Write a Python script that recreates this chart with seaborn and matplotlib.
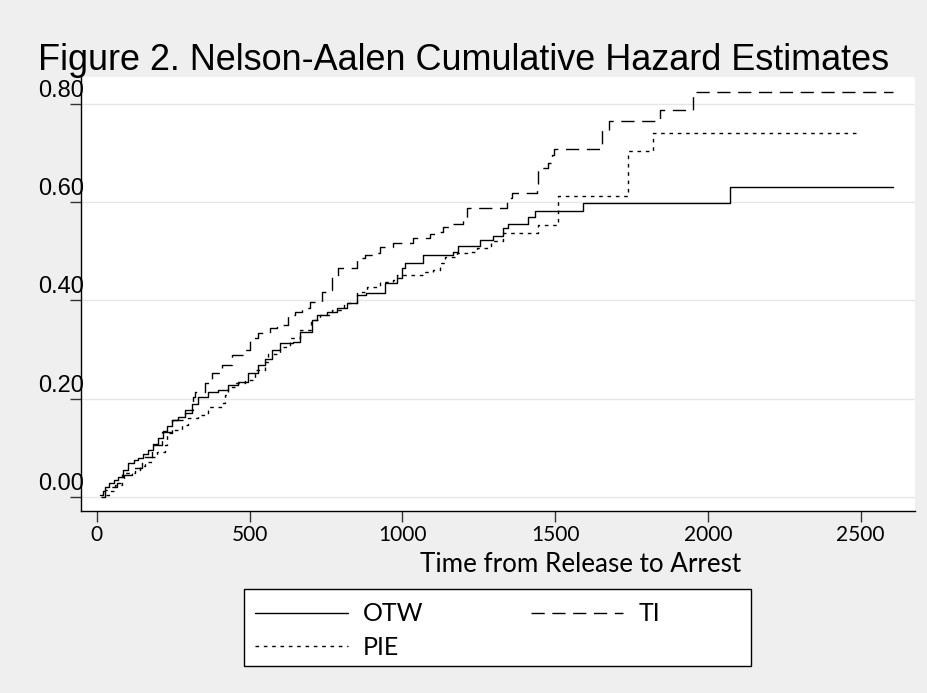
import numpy as np
import pandas as pd
import matplotlib
matplotlib.use("Agg")
import matplotlib.pyplot as plt
import matplotlib.transforms as mtransforms
from matplotlib.lines import Line2D
from matplotlib.patches import Rectangle
import seaborn as sns

# ---- data ----
otw_t = [10, 20, 26, 40, 55, 69, 85, 101, 120, 134, 150, 167, 185, 200, 215, 230, 246, 265, 288,
         310, 331, 363, 396, 429, 462, 494, 527, 550, 573, 599, 642, 665, 704, 720, 753, 786, 819,
         851, 880, 943, 982, 999, 1008, 1068, 1166, 1182, 1254, 1297, 1330, 1346, 1411, 1434,
         1591, 2073, 2606]
otw_v = [0.004, 0.012, 0.02, 0.028, 0.035, 0.04, 0.055, 0.07, 0.075, 0.08, 0.088, 0.096, 0.108,
         0.12, 0.135, 0.145, 0.157, 0.163, 0.17, 0.19, 0.204, 0.214, 0.218, 0.228, 0.234, 0.252,
         0.268, 0.28, 0.30, 0.313, 0.315, 0.336, 0.36, 0.37, 0.376, 0.384, 0.394, 0.41, 0.415,
         0.435, 0.445, 0.466, 0.476, 0.492, 0.498, 0.51, 0.523, 0.531, 0.547, 0.555, 0.57, 0.582,
         0.598, 0.631, 0.631]

pie_t = [30, 43, 60, 82, 124, 140, 157, 180, 196, 223, 229, 246, 278, 298, 331, 363, 409, 419,
         429, 452, 485, 517, 550, 560, 600, 632, 665, 700, 730, 770, 810, 851, 884, 927, 969, 982,
         1068, 1100, 1123, 1140, 1179, 1211, 1244, 1290, 1330, 1444, 1509, 1739, 1820, 2498]
pie_v = [0.004, 0.012, 0.025, 0.049, 0.055, 0.063, 0.071, 0.081, 0.092, 0.106, 0.13, 0.136,
         0.146, 0.16, 0.167, 0.183, 0.191, 0.208, 0.224, 0.232, 0.238, 0.258, 0.275, 0.29, 0.305,
         0.323, 0.34, 0.36, 0.37, 0.38, 0.395, 0.417, 0.427, 0.437, 0.441, 0.452, 0.458, 0.462,
         0.476, 0.488, 0.496, 0.498, 0.506, 0.52, 0.537, 0.553, 0.612, 0.704, 0.741, 0.741]

ti_t = [15, 26, 45, 65, 90, 115, 147, 180, 213, 246, 288, 314, 321, 354, 377, 409, 442, 480, 501,
        527, 566, 589, 625, 648, 671, 698, 737, 756, 769, 789, 851, 877, 910, 927, 969, 1035, 1090,
        1113, 1133, 1166, 1198, 1211, 1342, 1359, 1441, 1444, 1477, 1490, 1495, 1654, 1677, 1843,
        1951, 2606]
ti_v = [0.0, 0.014, 0.02, 0.028, 0.045, 0.06, 0.081, 0.105, 0.132, 0.157, 0.177, 0.204, 0.214,
        0.232, 0.252, 0.269, 0.289, 0.30, 0.323, 0.334, 0.344, 0.35, 0.37, 0.376, 0.384, 0.397,
        0.417, 0.421, 0.448, 0.466, 0.486, 0.492, 0.496, 0.509, 0.517, 0.527, 0.535, 0.539, 0.549,
        0.556, 0.568, 0.588, 0.608, 0.618, 0.631, 0.669, 0.68, 0.696, 0.709, 0.747, 0.765, 0.787,
        0.824, 0.824]

series_names = ["OTW", "TI", "PIE"]
x_ticks = [0, 500, 1000, 1500, 2000, 2500]
y_ticks = [0.0, 0.2, 0.4, 0.6, 0.8]
y_ticklabels = ["0.00", "0.20", "0.40", "0.60", "0.80"]
title = "Figure 2. Nelson-Aalen Cumulative Hazard Estimates"
x_label = "Time from Release to Arrest"

# ---- style ----
sns.set_style("white")
plt.rcParams["font.family"] = ["Liberation Sans", "DejaVu Sans"]
plt.rcParams["text.color"] = "black"
plt.rcParams["axes.labelcolor"] = "black"
plt.rcParams["xtick.color"] = "black"
plt.rcParams["ytick.color"] = "black"

W, H = 928, 693
fig = plt.figure(figsize=(W / 100, H / 100), dpi=100)
fig.patch.set_facecolor("#efefef")

L, R, B, T = 81, 915, 511, 77
ax = fig.add_axes([L / W, 1 - B / H, (R - L) / W, (B - T) / H])
ax.set_facecolor("white")

TI_DASH = (9.5, 5.5)
PIE_DASH = (2.6, 3.4)
data = {"OTW": (otw_t, otw_v), "TI": (ti_t, ti_v), "PIE": (pie_t, pie_v)}
dash_map = {"OTW": None, "TI": TI_DASH, "PIE": PIE_DASH}

for name in ["OTW", "PIE", "TI"]:
    t, v = data[name]
    df = pd.DataFrame({"t": t, "v": v})
    kw = {}
    if dash_map[name] is not None:
        kw["dashes"] = dash_map[name]
    sns.lineplot(data=df, x="t", y="v", ax=ax, color="black", linewidth=1.0,
                 drawstyle="steps-post", estimator=None, legend=False, **kw)

ax.set_xlim(-52, 2678)
ax.set_ylim(-0.0285, 0.8545)

ax.set_xticks(x_ticks)
ax.set_xticklabels([str(x) for x in x_ticks], fontfamily="Lato", fontsize=15, color="black")
ax.set_yticks(y_ticks)
ax.set_yticklabels(y_ticklabels, fontsize=17, color="black")

ax.grid(axis="y", color="#e6e6e6", linewidth=1.0)
ax.grid(axis="x", visible=False)
ax.set_axisbelow(True)

for s in ["top", "right"]:
    ax.spines[s].set_visible(False)
for s in ["left", "bottom"]:
    ax.spines[s].set_color("black")
    ax.spines[s].set_linewidth(1.0)

ax.tick_params(axis="x", direction="out", length=8, width=1, color="#333333", pad=2,
               bottom=True)
ax.tick_params(axis="y", direction="out", length=8, width=1, color="#333333", pad=-10.5,
               left=True)
offset = mtransforms.ScaledTranslation(0, 0.155, fig.dpi_scale_trans)
for lbl in ax.get_yticklabels():
    lbl.set_transform(lbl.get_transform() + offset)

ax.set_xlabel(x_label, fontfamily="Lato", fontsize=18.7, va="center", color="black")
ax.xaxis.set_label_coords((581 - L) / (R - L), (B - 565) / (B - T))
ax.set_ylabel("")

fig.text(0.5, 1 - 60 / H, title, ha="center", va="center", fontsize=25.9, color="black")

# legend box
fig.patches.append(Rectangle((244 / W, 1 - 666 / H), (751 - 244) / W, (666 - 589) / H,
                             transform=fig.transFigure, facecolor="white",
                             edgecolor="black", linewidth=1.0, zorder=1))

handles = [
    Line2D([], [], color="black", linewidth=1.0),
    Line2D([], [], color="black", linewidth=1.0, dashes=PIE_DASH),
    Line2D([], [], color="black", linewidth=1.0, dashes=TI_DASH),
]
labels = ["OTW", "PIE", "TI"]
leg = fig.legend(handles, labels, loc="upper left",
                 bbox_to_anchor=(244 / W, 1 - 591 / H), ncol=2,
                 prop={"family": "Lato", "size": 18}, labelcolor="black",
                 frameon=False, handlelength=3.7, handletextpad=0.6, columnspacing=4.3,
                 labelspacing=0.42, borderpad=0.45, borderaxespad=0)
leg.set_zorder(3)

fig.savefig("out.png", dpi=100, facecolor=fig.get_facecolor())
